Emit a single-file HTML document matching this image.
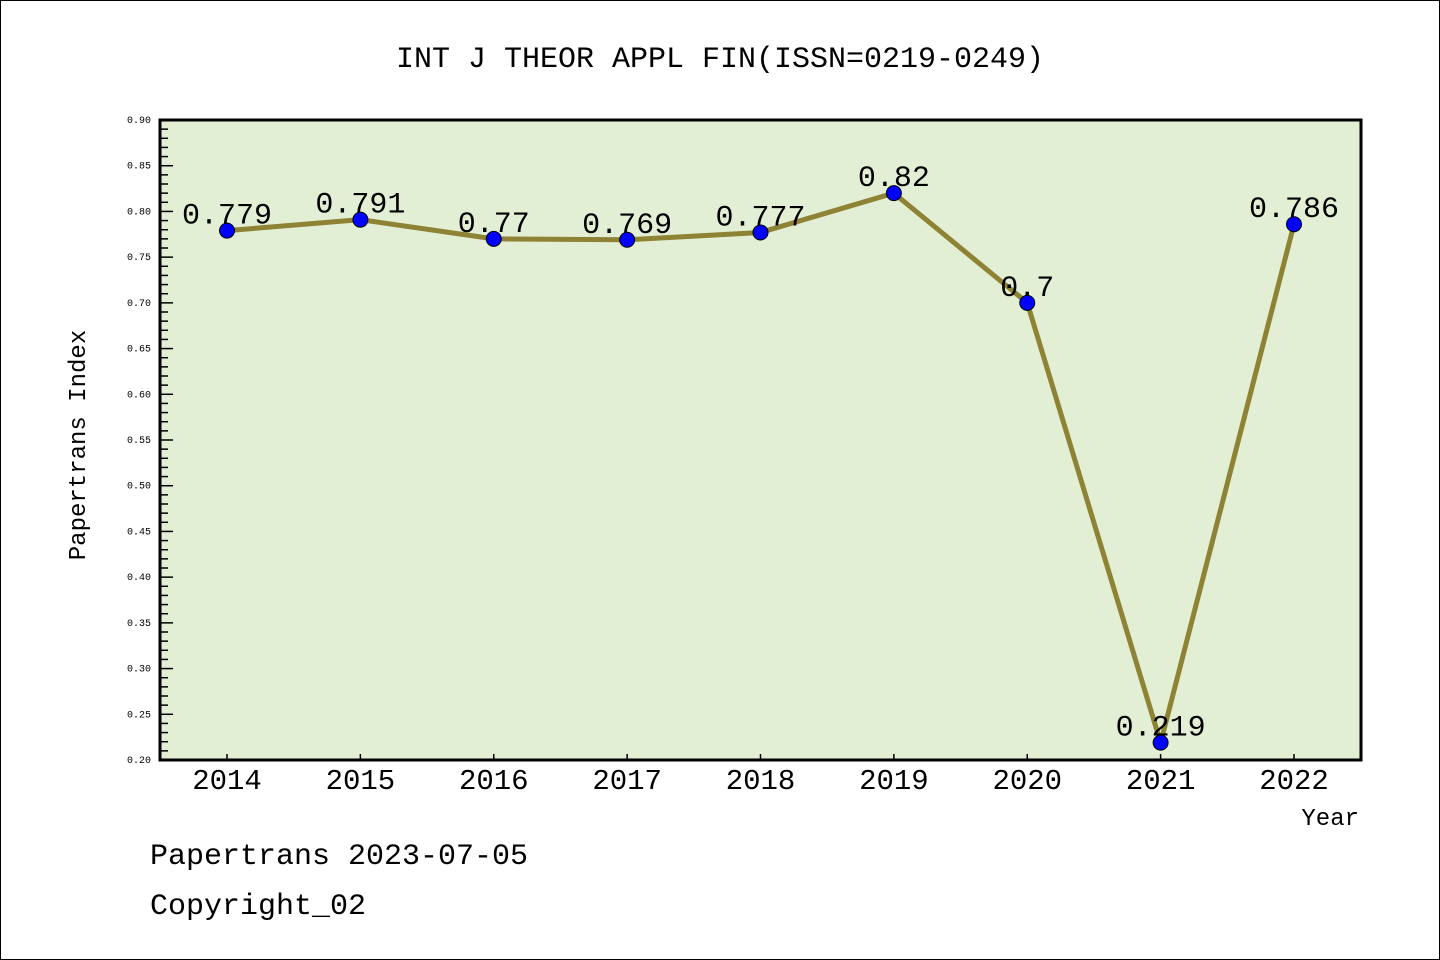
<!DOCTYPE html>
<html><head><meta charset="utf-8"><style>
html,body{margin:0;padding:0;background:#fff}
svg{display:block}
text{font-family:"Liberation Mono","Noto Sans CJK SC",monospace}
</style></head><body>
<svg id="chart" width="1440" height="960" xmlns="http://www.w3.org/2000/svg">
<rect x="0.5" y="0.5" width="1439" height="959" fill="#fff" stroke="#000"/>
<text x="720" y="67" text-anchor="middle" font-size="30">INT J THEOR APPL FIN(ISSN=0219-0249)</text>
<rect x="160" y="120" width="1201" height="640" fill="#e2efd5"/>
<g id="axes"></g>
<g id="series"></g>
<rect x="160" y="120" width="1201" height="640" fill="none" stroke="#000" stroke-width="3"/>
<text transform="translate(85,445) rotate(-90)" text-anchor="middle" font-size="24">Papertrans Index</text>
<text x="1359" y="825" text-anchor="end" font-size="24">Year</text>
<text x="150" y="864" font-size="30">Papertrans 2023-07-05</text>
<text x="150" y="914" font-size="30">Copyright_02</text>
</svg>
<script>
const categories = ["2014","2015","2016","2017","2018","2019","2020","2021","2022"];
const values = [0.779,0.791,0.77,0.769,0.777,0.82,0.7,0.219,0.786];
const valueLabels = ["0.779","0.791","0.77","0.769","0.777","0.82","0.7","0.219","0.786"];
const yTicks = ["0.20","0.25","0.30","0.35","0.40","0.45","0.50","0.55","0.60","0.65","0.70","0.75","0.80","0.85","0.90"];
const yMin = 0.2, yMax = 0.9;
const NS = "http://www.w3.org/2000/svg";
function y(v){return 760 - (v - yMin)/(yMax - yMin)*640;}
function x(i){return 227 + i*(1294-227)/(categories.length-1);}
function mk(tag, attrs){const e=document.createElementNS(NS,tag);for(const k in attrs)e.setAttribute(k,attrs[k]);return e;}
const axes=document.getElementById('axes'), series=document.getElementById('series');
for(let k=0;k<=70;k++){
  const v=yMin+k*0.01, major=k%5===0;
  const t=mk('line',{x1:160,x2:major?173:168,y1:y(v),y2:y(v),stroke:'#000','stroke-width':1.5});
  
  
  axes.appendChild(t);
}
yTicks.forEach(s=>{
  const t=mk('text',{x:151,y:y(parseFloat(s))+3,'text-anchor':'end','font-size':10,'font-family':'DejaVu Sans, sans-serif'});
  t.textContent=s;
  
  
  axes.appendChild(t);
});
categories.forEach((c,i)=>{
  const tk=mk('line',{x1:x(i),x2:x(i),y1:760,y2:754,stroke:'#000','stroke-width':1.5});
  
  
  axes.appendChild(tk);
  const t=mk('text',{x:x(i),y:789,'text-anchor':'middle','font-size':29,'font-family':'Liberation Sans, sans-serif'});
  t.textContent=c;
  
  
  axes.appendChild(t);
});
const pts=values.map((v,i)=>x(i)+','+y(v)).join(' ');
const line=mk('polyline',{points:pts,fill:'none',stroke:'#8e8234','stroke-width':5,'stroke-linejoin':'round'});


series.appendChild(line);
values.forEach((v,i)=>{
  const c=mk('circle',{cx:x(i),cy:y(v),r:7.5,fill:'#0000ff',stroke:'#000','stroke-width':1});
  
  
  series.appendChild(c);
  const t=mk('text',{x:x(i),y:y(v)-7,'text-anchor':'middle','font-size':30});
  t.textContent=valueLabels[i];
  
  
  series.appendChild(t);
});
</script>
</body></html>
